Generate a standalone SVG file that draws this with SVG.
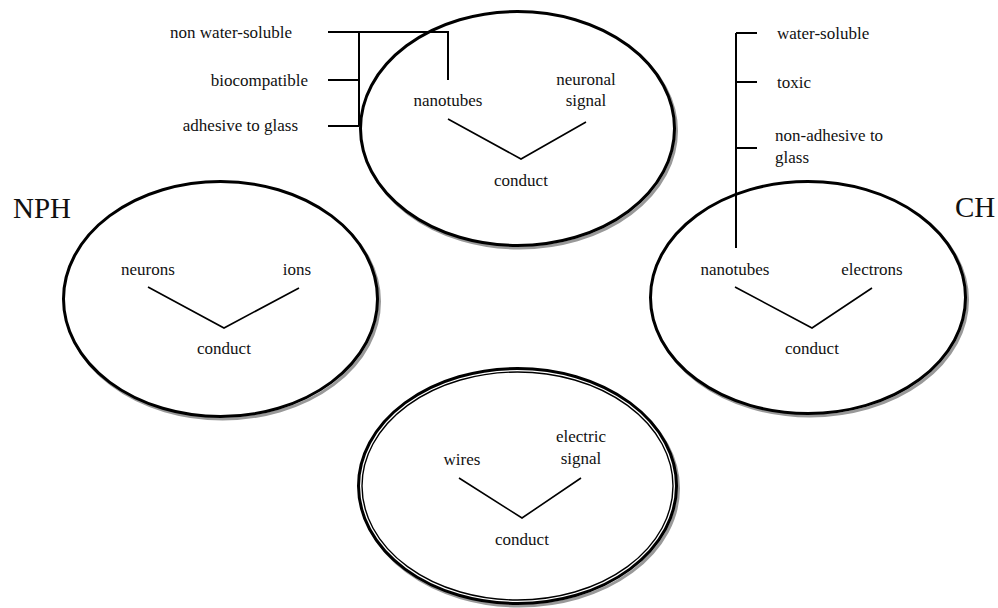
<svg xmlns="http://www.w3.org/2000/svg" width="998" height="608" viewBox="0 0 998 608" font-family="'Liberation Serif','Times New Roman',serif">
<style>
text{font-family:"Liberation Serif","Times New Roman",serif;font-size:17px;fill:#111}
.big{font-size:29px}
.mid{text-anchor:middle}
.ell{fill:#fff;stroke:#000;stroke-width:3}
.sh{fill:none;stroke:#999;stroke-width:3}
.v{fill:none;stroke:#000;stroke-width:1.6}
.br{fill:none;stroke:#000;stroke-width:2}
</style>
<rect width="998" height="608" fill="#fff"/>
<g id="top">
<ellipse class="sh" cx="519.5" cy="131" rx="157" ry="117"/>
<ellipse class="ell" cx="517.5" cy="128.5" rx="157" ry="117"/>
<text class="mid" x="448" y="106">nanotubes</text>
<text class="mid" x="586" y="85">neuronal</text>
<text class="mid" x="586" y="106">signal</text>
<text class="mid" x="521" y="186">conduct</text>
<polyline class="v" points="448,119 521,159 586,122"/>
</g>
<g id="left">
<ellipse class="sh" cx="222.5" cy="301.5" rx="157" ry="117.5"/>
<ellipse class="ell" cx="220.5" cy="299" rx="157" ry="117.5"/>
<text class="mid" x="148" y="275">neurons</text>
<text class="mid" x="297" y="275">ions</text>
<text class="mid" x="224" y="354">conduct</text>
<polyline class="v" points="148,287 224,328 299,288"/>
</g>
<g id="right">
<ellipse class="sh" cx="810" cy="300" rx="157.5" ry="116"/>
<ellipse class="ell" cx="808" cy="297.5" rx="157.5" ry="116"/>
<text class="mid" x="735" y="275">nanotubes</text>
<text class="mid" x="872" y="275">electrons</text>
<text class="mid" x="812" y="354">conduct</text>
<polyline class="v" points="735,287 812,328 872,288"/>
</g>
<g id="bottom">
<ellipse class="sh" cx="519.5" cy="488.5" rx="159" ry="117.5"/>
<ellipse class="ell" cx="517.5" cy="486" rx="159" ry="117.5"/>
<ellipse fill="none" stroke="#000" stroke-width="1.4" cx="517.5" cy="486" rx="155.5" ry="114"/>
<text class="mid" x="462" y="465">wires</text>
<text class="mid" x="581" y="442">electric</text>
<text class="mid" x="581" y="464">signal</text>
<text class="mid" x="522" y="545">conduct</text>
<polyline class="v" points="459,478 522,518 581,478"/>
</g>
<g id="NPH"><text class="big" x="13" y="218">NPH</text></g>
<g id="CH"><text class="big" x="955" y="217">CH</text></g>
<g id="props-left">
<text x="292" y="38" text-anchor="end">non water-soluble</text>
<text x="308" y="86" text-anchor="end">biocompatible</text>
<text x="298" y="131" text-anchor="end">adhesive to glass</text>
</g>
<g id="props-right">
<text x="777" y="39">water-soluble</text>
<text x="777" y="88">toxic</text>
<text x="775" y="141">non-adhesive to</text>
<text x="775" y="163">glass</text>
</g>
<g id="connectors">
<polyline class="br" points="328,32 448,32 448,80"/>
<line class="br" x1="359" y1="32" x2="359" y2="126"/>
<line class="br" x1="328" y1="80" x2="359" y2="80"/>
<line class="br" x1="328" y1="126" x2="359" y2="126"/>
<line class="br" x1="736" y1="33" x2="736" y2="248"/>
<line class="br" x1="736" y1="33" x2="757" y2="33"/>
<line class="br" x1="736" y1="82" x2="757" y2="82"/>
<line class="br" x1="736" y1="148" x2="757" y2="148"/>
</g>
</svg>
